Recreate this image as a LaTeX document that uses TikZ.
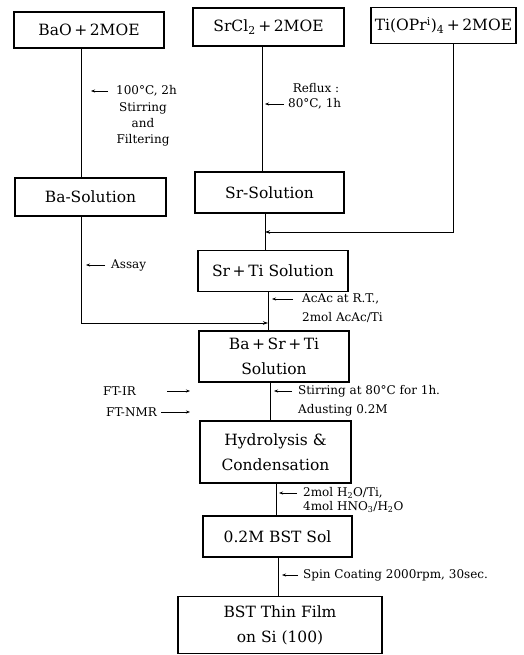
\documentclass[tikz,border=0pt]{standalone}
\usepackage{fontspec}
\setmainfont{DejaVu Serif}
\usetikzlibrary{positioning,arrows.meta,calc}

\newcommand{\boxfont}{\fontsize{15.5}{25}\selectfont}
\newcommand{\notefont}{\fontsize{12}{16}\selectfont}

\tikzset{
  procbox/.style={draw,line width=1.2pt,inner sep=0pt,align=center,font=\boxfont},
  flow/.style={line width=0.8pt},
  junction/.style={flow,-{Stealth[length=5pt,width=3.5pt]}},
  note/.style={font=\notefont,inner sep=0pt,anchor=west},
  tip/.style={line width=0.7pt,-{Stealth[length=4pt,width=3pt]},shorten >=4pt}
}

\begin{document}
\begin{tikzpicture}[x=1pt,y=-1pt]
\useasboundingbox (0,0) rectangle (524,655);

% columns of the flow lines
\coordinate (xba) at (81,0);
\coordinate (xsr) at (262,0);
\coordinate (xsrb) at (265,0);
\coordinate (xti) at (453,0);
\coordinate (xmid) at (268,0);
\coordinate (xbst) at (270,0);
\coordinate (xhyd) at (276,0);
\coordinate (xsol) at (278,0);
\coordinate (ftin) at (190,0);

% boxes
\node[procbox,minimum width=150pt,minimum height=36pt] (bao) at (89,30) {BaO\,+\,2MOE};
\node[procbox,minimum width=151pt,minimum height=38pt] (srcl) at (268.5,27) {SrCl\textsubscript{2}\,+\,2MOE};
\node[procbox,minimum width=145pt,minimum height=36pt] (ti) at (443.5,25.5) {Ti(OPr\textsuperscript{i})\textsubscript{4}\,+\,2MOE};
\node[procbox,minimum width=151pt,minimum height=38pt] (basol) at (90.5,197) {Ba-Solution};
\node[procbox,minimum width=149pt,minimum height=41pt] (srsol) at (269.5,192.5) {Sr-Solution};
\node[procbox,minimum width=150pt,minimum height=41pt] (srti) at (273,271) {Sr\,+\,Ti Solution};
\node[procbox,minimum width=150pt,minimum height=51pt] (basrti) at (274,356.5) {Ba\,+\,Sr\,+\,Ti\\Solution};
\node[procbox,minimum width=151pt,minimum height=62pt] (hydro) at (275.5,452) {Hydrolysis \&\\Condensation};
\node[procbox,minimum width=149pt,minimum height=41pt] (bstsol) at (277.5,536.5) {0.2M BST Sol};
\node[procbox,minimum width=204pt,minimum height=57pt] (film) at (280,625) {BST Thin Film\\on Si (100)};

% junctions
\coordinate (jti) at (265,232);
\coordinate (jba) at (268,323);

% flow lines
\draw[flow] (bao.south -| xba) -- (basol.north -| xba);
\draw[flow] (srcl.south -| xsr) -- (srsol.north -| xsr);
\draw[flow] (srsol.south -| xsrb) -- (srti.north -| xsrb);
\draw[junction] (ti.south -| xti) |- (jti);
\draw[flow] (srti.south -| xmid) -- (basrti.north -| xmid);
\draw[junction] (basol.south -| xba) |- (jba);
\draw[flow] (basrti.south -| xbst) -- (hydro.north -| xbst);
\draw[flow] (hydro.south -| xhyd) -- (bstsol.north -| xhyd);
\draw[flow] (bstsol.south -| xsol) -- (film.north -| xsol);

% process notes
\node[note] (bacond) at (116,91) {100°C, 2h};
\node[note,anchor=center,align=center] (bastir) at (143,124) {Stirring\\and\\Filtering};
\draw[tip,shorten >=10pt] ([xshift=-8pt]bacond.west) -- (bacond.west -| xba);

\node[note,anchor=center] (reflux) at (316,88) {Reflux :};
\node[note] (srcond) at (288,104) {80°C, 1h};
\draw[tip,shorten >=3pt] ([xshift=-4pt]srcond.west) -- (srcond.west -| xsr);

\node[note] (assay) at (111,265) {Assay};
\draw[tip,shorten >=5pt] ([xshift=-6pt]assay.west) -- (assay.west -| xba);

\node[note] (acac) at (302,299) {AcAc at R.T.,};
\node[note] (acacti) at (302,317) {2mol AcAc/Ti};
\draw[tip] ([xshift=-9pt]acac.west) -- (acac.west -| xmid);

\node[note] (stir) at (298,391) {Stirring at 80°C for 1h.};
\node[note] (adjust) at (298,410) {Adusting 0.2M};
\draw[tip] ([xshift=-6pt]stir.west) -- (stir.west -| xbst);

\node[note] (ftir) at (103,391) {FT-IR};
\node[note] (ftnmr) at (106,412) {FT-NMR};
\draw[line width=0.7pt,-{Stealth[length=4pt,width=3pt]}] ([xshift=31pt]ftir.east) -- (ftir.east -| ftin);
\draw[line width=0.7pt,-{Stealth[length=4pt,width=3pt]}] ([xshift=4pt]ftnmr.east) -- (ftnmr.east -| ftin);

\node[note] (water) at (303,493) {2mol H\textsubscript{2}O/Ti,};
\node[note] (acid) at (303,507) {4mol HNO\textsubscript{3}/H\textsubscript{2}O};
\draw[tip,shorten >=3pt] ([xshift=-6pt]water.west) -- (water.west -| xhyd);

\node[note] (spin) at (303,575) {Spin Coating 2000rpm, 30sec.};
\draw[tip] ([xshift=-5pt]spin.west) -- (spin.west -| xsol);
\end{tikzpicture}
\end{document}
